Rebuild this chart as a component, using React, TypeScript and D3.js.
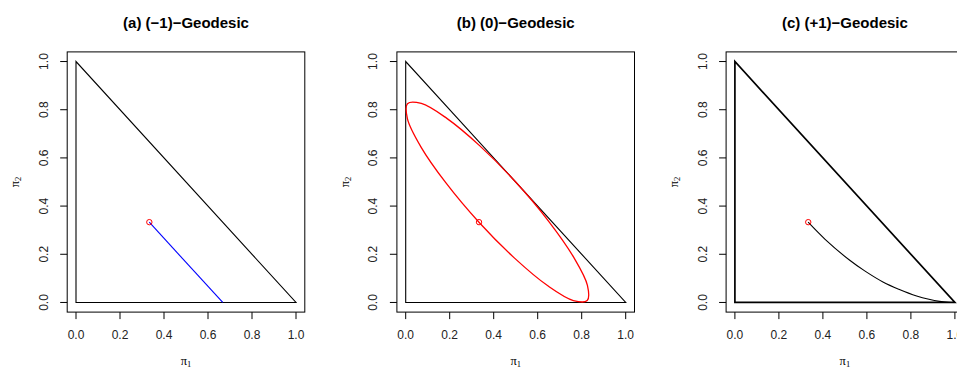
import * as d3 from "d3"

// panel titles and the three simplex geodesics
const titles = ["(a) (\u22121)\u2212Geodesic", "(b) (0)\u2212Geodesic", "(c) (+1)\u2212Geodesic"]
const ticks = [0, 0.2, 0.4, 0.6, 0.8, 1.0]
const triangle: [number, number][] = [[0, 0], [1, 0], [0, 1]]
const center: [number, number] = [1 / 3, 1 / 3]

// (-1): straight mixture line
const mixGeodesic: [number, number][] = [[0.333, 0.333], [0.667, 0]]

// (0): closed red curve touching all three edges
const fisherGeodesic: [number, number][] = [
  [0.333, 0.333], [0.496, 0.183], [0.646, 0.069], [0.762, 0.008],
  [0.825, 0.008], [0.826, 0.071], [0.764, 0.187], [0.65, 0.337],
  [0.5, 0.5], [0.337, 0.65], [0.187, 0.764], [0.071, 0.826],
  [0.008, 0.825], [0.008, 0.762], [0.069, 0.646], [0.183, 0.496],
]

// (+1): curved path into the (1,0) corner
const expGeodesic: [number, number][] = [
  [0.333, 0.333], [0.41, 0.262], [0.522, 0.175], [0.59, 0.131], [0.675, 0.084],
  [0.745, 0.055], [0.826, 0.027], [0.882, 0.013], [0.93, 0.0046], [0.97, 0.0009], [1.0, 0.0],
]

const panelLeft = [76, 405.7, 734.9]
const unit = 220
const font = "'Liberation Sans', Arial, Helvetica, sans-serif"

function Panel({ idx }: { idx: number }) {
  const x0 = panelLeft[idx]
  const x = d3.scaleLinear().domain([-0.04, 1.04]).range([x0 - 0.04 * unit, x0 + 1.04 * unit])
  const y = d3.scaleLinear().domain([-0.04, 1.04]).range([312.1, 51.9])
  const line = d3.line<[number, number]>().x((d) => x(d[0])).y((d) => y(d[1]))
  const [bx0, bx1] = x.range()
  const [by0, by1] = y.range()
  const mid = (x(0) + x(1)) / 2
  const midY = (y(0) + y(1)) / 2
  const triWidth = idx === 2 ? 1.7 : 1.1

  return (
    <g>
      <text x={mid} y={27.5} textAnchor="middle" fontFamily={font} fontWeight="bold" fontSize={15}>
        {titles[idx]}
      </text>
      <rect x={bx0} y={by1} width={bx1 - bx0} height={by0 - by1} fill="none" stroke="#000" strokeWidth={1} />

      {/* x axis */}
      {ticks.map((t) => (
        <g key={"x" + t}>
          <line x1={x(t)} x2={x(t)} y1={by0} y2={by0 + 7} stroke="#000" />
          <text x={x(t)} y={338.5} textAnchor="middle" fontFamily={font} fontSize={12} fill="#222">
            {t.toFixed(1)}
          </text>
        </g>
      ))}
      {/* y axis */}
      {ticks.map((t) => (
        <g key={"y" + t}>
          <line x1={bx0} x2={bx0 - 7} y1={y(t)} y2={y(t)} stroke="#000" />
          <text
            transform={`translate(${bx0 - 19.5},${y(t)}) rotate(-90)`}
            textAnchor="middle"
            fontFamily={font}
            fontSize={12}
            fill="#222"
          >
            {t.toFixed(1)}
          </text>
        </g>
      ))}

      <text x={mid} y={365} textAnchor="middle" fontFamily="'Liberation Serif', serif" fontSize={12.5}>
        π<tspan fontSize={8.5} dy={2}>1</tspan>
      </text>
      <text
        transform={`translate(${bx0 - 48},${midY}) rotate(-90)`}
        textAnchor="middle"
        fontFamily="'Liberation Serif', serif"
        fontSize={12.5}
      >
        π<tspan fontSize={8.5} dy={2}>2</tspan>
      </text>

      <path d={line(triangle) + "Z"} fill="none" stroke="#000" strokeWidth={triWidth} />

      {idx === 0 && <path d={line(mixGeodesic) ?? ""} fill="none" stroke="#0000ff" strokeWidth={1.1} />}
      {idx === 1 && (
        <path
          d={d3.line<[number, number]>().x((d) => x(d[0])).y((d) => y(d[1])).curve(d3.curveCatmullRomClosed)(fisherGeodesic) ?? ""}
          fill="none"
          stroke="#ff0000"
          strokeWidth={1.3}
        />
      )}
      {idx === 2 && (
        <path
          d={d3.line<[number, number]>().x((d) => x(d[0])).y((d) => y(d[1])).curve(d3.curveCatmullRom)(expGeodesic) ?? ""}
          fill="none"
          stroke="#000"
          strokeWidth={1.1}
        />
      )}

      <circle cx={x(center[0])} cy={y(center[1])} r={2.7} fill="none" stroke="#ff0000" strokeWidth={1} />
    </g>
  )
}

export default function App() {
  return (
    <svg
      width={957}
      height={367}
      style={{ position: "absolute", left: 0, top: 0, background: "#fff" }}
    >
      <Panel idx={0} />
      <Panel idx={1} />
      <Panel idx={2} />
    </svg>
  )
}
